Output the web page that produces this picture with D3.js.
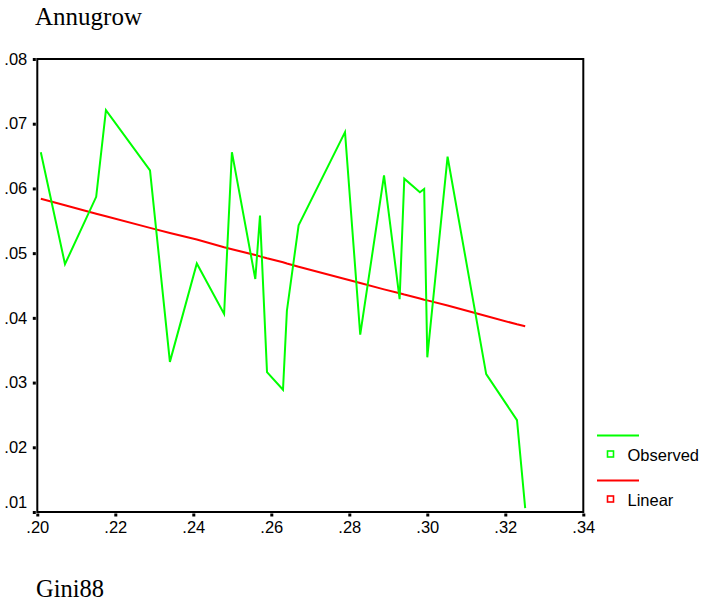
<!DOCTYPE html>
<html><head><meta charset="utf-8">
<script src="https://cdn.jsdelivr.net/npm/d3@7"></script>
<style>body{margin:0;background:#fff}svg{display:block}</style>
</head><body><svg id="c" width="703" height="605"></svg>
<script>
const gini = [0.2009,0.2071,0.2151,0.2176,0.2289,0.2340,0.2409,0.2479,0.2499,0.2559,0.2571,0.2589,0.2630,0.2640,0.2670,0.2789,0.2828,0.2889,0.2929,0.2941,0.2981,0.2992,0.3000,0.3052,0.3151,0.3230,0.3251];
const observed = [0.0656,0.0483,0.0587,0.0721,0.0628,0.0332,0.0484,0.0406,0.0656,0.0460,0.0558,0.0316,0.0289,0.0411,0.0543,0.0687,0.0374,0.0620,0.0429,0.0615,0.0594,0.0599,0.0339,0.0649,0.0313,0.0242,0.0106];
const linear = [0.0584,0.0574,0.0561,0.0557,0.0539,0.0531,0.0521,0.0509,0.0506,0.0497,0.0495,0.0492,0.0486,0.0484,0.0479,0.0460,0.0454,0.0444,0.0438,0.0436,0.0430,0.0428,0.0427,0.0419,0.0403,0.0390,0.0387];
const xTicks = [0.20,0.22,0.24,0.26,0.28,0.30,0.32,0.34];
const yTicks = [0.01,0.02,0.03,0.04,0.05,0.06,0.07,0.08];
const legendItems = ["Observed","Linear"];
const colors = ["#00ff00","#ff0000"];

const svg = d3.select("#c");
const L=37.3, R=583.3, T=59, B=512;
const x = d3.scaleLinear().domain([0.20,0.34]).range([L,R]);
const y = d3.scaleLinear().domain([0.01,0.08]).range([B,T]);
const fmt = d => d3.format(".2f")(d).replace(/^0/,"");
const sans = "'Liberation Sans',Arial,sans-serif";
const serif = "'Liberation Serif','Times New Roman',serif";

// frame
svg.append("rect").attr("x",L).attr("y",T).attr("width",R-L).attr("height",B-T)
  .attr("fill","none").attr("stroke","#000").attr("stroke-width",2);

// y axis
const yAxis = d3.axisLeft(y).tickValues(yTicks).tickFormat(fmt).tickSize(0).tickPadding(10);
const gy = svg.append("g").attr("transform",`translate(${L},0)`).call(yAxis);
gy.select(".domain").remove();
gy.selectAll("text").attr("font-family",sans).attr("font-size",16.5).attr("fill","#000")
  .attr("dy", (d,i)=> i===0 ? "-0.3em" : "0.32em");
gy.selectAll(".tick").append("rect").attr("x",-4.5).attr("y",-1.5).attr("width",3).attr("height",3).attr("fill","#000");

// x axis
const xAxis = d3.axisBottom(x).tickValues(xTicks).tickFormat(fmt).tickSize(0).tickPadding(9);
const gx = svg.append("g").attr("transform",`translate(0,${B})`).call(xAxis);
gx.select(".domain").remove();
gx.selectAll("text").attr("font-family",sans).attr("font-size",16.5).attr("fill","#000");
gx.selectAll(".tick").append("rect").attr("x",-1.5).attr("y",1.5).attr("width",3).attr("height",3).attr("fill","#000");

const line = d3.line().x(d=>x(d[0])).y(d=>y(d[1]));
svg.append("path").datum(gini.map((g,i)=>[g,linear[i]])).attr("d",line)
  .attr("fill","none").attr("stroke",colors[1]).attr("stroke-width",2);
svg.append("path").datum(gini.map((g,i)=>[g,observed[i]])).attr("d",line)
  .attr("fill","none").attr("stroke",colors[0]).attr("stroke-width",2).attr("stroke-linejoin","miter");

// titles
svg.append("text").attr("x",35).attr("y",25).text("Annugrow")
  .attr("font-family",serif).attr("font-size",25);
svg.append("text").attr("x",36).attr("y",597).text("Gini88")
  .attr("font-family",serif).attr("font-size",24.5);

// legend
const lg = svg.append("g");
legendItems.forEach((name,i)=>{
  const oy = i*45;
  lg.append("line").attr("x1",597).attr("x2",639).attr("y1",435.5+oy).attr("y2",435.5+oy)
    .attr("stroke",colors[i]).attr("stroke-width",2);
  lg.append("rect").attr("x",607.5).attr("y",451+oy).attr("width",6).attr("height",6)
    .attr("fill","none").attr("stroke",colors[i]).attr("stroke-width",1.6);
  lg.append("text").attr("x",627.5).attr("y",460.5+oy).text(name)
    .attr("font-family",sans).attr("font-size",16.5).attr("fill","#000");
});
</script></body></html>
